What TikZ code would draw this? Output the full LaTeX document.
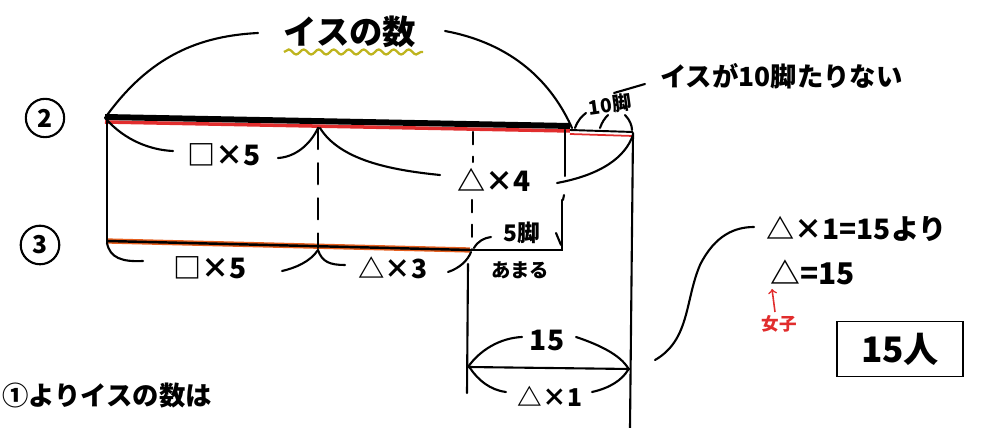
\documentclass[tikz,border=0pt]{standalone}
\usepackage{fontspec}
\setmainfont{Noto Sans CJK JP}
\usetikzlibrary{decorations.pathmorphing}
\definecolor{penred}{RGB}{225,45,45}
\definecolor{penorange}{RGB}{230,95,30}
\definecolor{penyellow}{RGB}{190,180,30}
\newcommand{\fs}[1]{\fontsize{#1}{#1}\selectfont\bfseries}
\tikzset{
  pen/.style={line width=1.2pt, line cap=round},
  lbl/.style={inner sep=0pt},
  rownum/.style={circle, draw=black, line width=1.2pt, inner sep=3pt, font=\fs{14}},
}
\begin{document}
\begin{tikzpicture}[x=0.02cm, y=-0.02cm]
    \useasboundingbox (0,0) rectangle (1001,428);

    % 番号
    \node[rownum] (two) at (45,118) {2};
    \node[rownum] (three) at (40,245) {3};

    % ②の線
    \draw[penred, line width=2pt] (105,122) -- (570,131);
    \draw[line width=3.4pt] (105,117) -- (570,126);
    \draw[penred, line width=1pt] (570,134) -- (633,136);
    \draw[line width=1.1pt] (570,130) -- (633,132);

    % ③の線
    \draw[penorange, line width=3pt] (107,241) -- (470,250);
    \draw[line width=1.4pt] (107,241) -- (470,250);
    \draw[pen] (470,250) -- (562,250) -- (562,200);

    % 縦の線
    \draw[pen] (107,118) -- (107,243);
    \draw[pen, dash pattern=on 12pt off 8pt] (318,128) -- (318,248);
    \draw[pen, dash pattern=on 7pt off 7pt] (473,132) -- (473,162);
    \draw[pen, dash pattern=on 7pt off 7pt] (472,200) -- (472,250);
    \draw[pen] (565,130) -- (565,176);
    \draw[pen] (564,195) -- (563,200);
    \draw[pen] (633,133) -- (630,428);
    \draw[pen] (468,264) -- (467,393);

    % イスの数
    \node[lbl, font=\fs{19}] (total) at (350,32) {イスの数};
    \draw[penyellow, line width=1.3pt, decorate, decoration={snake, amplitude=0.05cm, segment length=0.3cm}] (284,52) -- (423,52);
    \draw[pen] (105,118) .. controls (150,55) and (200,36) .. (258,33);
    \draw[pen] (445,31) .. controls (520,45) and (555,90) .. (572,128);

    % 10脚
    \node[lbl, font=\fs{11}, rotate=8] (ten) at (610,105) {10脚};
    \draw[pen] (575,128) .. controls (578,120) and (582,116) .. (586,113);
    \draw[pen] (600,128) .. controls (602,122) and (605,118) .. (608,115);
    \draw[pen] (625,115) .. controls (630,120) and (632,126) .. (632,130);
    \draw[pen] (614,93) -- (645,84);
    \node[lbl, anchor=west, font=\fs{15}] (short) at (660,76) {イスが10脚たりない};

    % ②の下
    \node[lbl, font=\fs{16}] (sq1) at (224,155) {□×5};
    \draw[pen] (107,120) .. controls (125,140) and (150,150) .. (173,151);
    \draw[pen] (278,158) .. controls (295,157) and (310,145) .. (318,128);
    \node[lbl, font=\fs{16}] (tri4) at (494,180) {△×4};
    \draw[pen] (320,128) .. controls (340,160) and (390,170) .. (440,175);
    \draw[pen] (557,183) .. controls (600,175) and (625,158) .. (633,135);

    % ③の下
    \node[lbl, font=\fs{16}] (sq2) at (210,268) {□×5};
    \draw[pen] (107,243) .. controls (110,258) and (122,262) .. (143,261);
    \draw[pen] (282,271) .. controls (295,268) and (310,262) .. (318,250);
    \node[lbl, font=\fs{15}] (tri3) at (393,268) {△×3};
    \draw[pen] (318,250) .. controls (322,262) and (330,265) .. (345,265);
    \draw[pen] (448,272) .. controls (460,268) and (468,260) .. (471,252);

    % 5脚あまる
    \node[lbl, font=\fs{13}] (five) at (522,233) {5脚};
    \node[lbl, font=\fs{11}] (left) at (520,270) {あまる};
    \draw[pen] (474,248) .. controls (478,241) and (484,238) .. (491,237);
    \draw[pen] (556,233) -- (561,245);

    % 15
    \draw[pen] (468,367) -- (630,369);
    \node[lbl, font=\fs{16}] (fifteen) at (547,340) {15};
    \draw[pen] (468,367) .. controls (480,350) and (500,338) .. (522,337);
    \draw[pen] (576,337) .. controls (600,345) and (620,355) .. (628,368);
    \node[lbl, font=\fs{14}] (tri1) at (550,396) {△×1};
    \draw[pen] (470,368) .. controls (478,380) and (490,390) .. (506,392);
    \draw[pen] (592,392) .. controls (610,388) and (622,380) .. (628,370);

    % 答え
    \draw[pen] (655,360) .. controls (690,340) and (685,300) .. (700,265) .. controls (715,235) and (735,227) .. (754,227);
    \node[lbl, anchor=west, font=\fs{16}] (eq1) at (766,229) {△×1=15より};
    \node[lbl, anchor=west, font=\fs{17}] (eq2) at (770,272) {△=15};
    \draw[penred, line width=0.9pt, ->] (775,312) -- (772,289);
    \node[lbl, text=penred, font=\fs{10}] (girls) at (779,324) {女子};
    \node[draw, line width=1.1pt, minimum width=2.52cm, minimum height=1.1cm, font=\fs{20}] (ans) at (900,349) {15人};

    % ①より
    \node[lbl, anchor=west, font=\fs{15}] (note) at (2,396) {①よりイスの数は};
\end{tikzpicture}
\end{document}
